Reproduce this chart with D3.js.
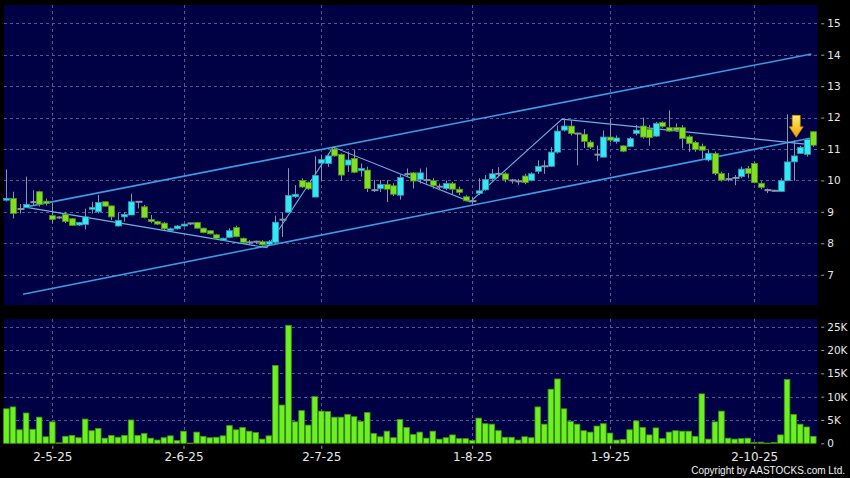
<!DOCTYPE html>
<html><head><meta charset="utf-8">
<script src="https://cdn.jsdelivr.net/npm/d3@7"></script>
<style>html,body{margin:0;padding:0;background:#000;}svg{display:block}</style>
</head><body><svg id="c" width="850" height="478"></svg>
<script>
// ---- data ----
const opens  = [9.37,9.43,9.09,9.14,9.31,9.64,9.34,8.88,8.82,8.92,8.78,8.58,8.60,9.08,9.00,9.32,9.19,8.55,8.84,8.90,
                9.32,9.16,8.76,8.69,8.64,8.41,8.46,8.55,8.63,8.66,8.48,8.40,8.27,8.10,8.19,8.50,8.16,8.03,8.05,8.05,
                7.97,8.03,8.75,8.99,9.48,10.00,9.94,9.47,10.55,10.54,11.00,10.83,10.49,10.70,10.31,10.33,9.69,9.74,9.87,9.83,
                9.53,10.20,10.24,10.03,10.01,9.99,9.80,9.74,9.90,9.72,9.48,9.34,9.59,9.70,10.05,10.21,10.21,10.00,9.97,10.14,
                10.00,10.29,10.45,10.45,10.90,11.60,11.73,11.49,11.47,11.22,10.82,10.74,11.38,11.24,11.10,11.08,11.49,11.73,11.63,11.41,
                11.84,11.68,11.68,11.68,11.39,11.21,11.09,10.65,10.86,10.22,10.04,10.08,10.12,10.38,10.54,9.91,9.69,9.67,9.65,9.99,
                10.59,10.86,10.83,11.55];
const closes = [9.43,8.95,9.09,9.24,9.31,9.24,9.27,8.76,8.82,8.69,8.57,8.66,8.84,9.14,9.30,9.18,8.84,8.73,8.92,9.32,
                9.32,8.82,8.69,8.61,8.46,8.46,8.55,8.61,8.63,8.48,8.34,8.30,8.16,8.16,8.40,8.21,8.03,8.03,8.05,7.95,
                8.05,8.67,8.75,9.52,9.56,9.79,9.73,10.16,10.66,10.78,10.78,10.17,10.65,10.26,10.38,9.74,9.69,9.87,9.72,9.56,
                10.09,10.20,9.98,10.24,10.01,9.83,9.80,9.90,9.72,9.62,9.35,9.34,9.67,10.03,10.21,10.21,10.03,10.00,9.97,9.93,
                10.21,10.45,10.45,10.90,11.57,11.73,11.49,11.49,11.24,11.06,10.82,11.38,11.28,11.35,10.93,11.33,11.60,11.38,11.36,11.81,
                11.72,11.57,11.60,11.33,11.17,10.98,10.96,10.86,10.22,10.01,10.04,10.08,10.36,10.22,9.93,9.78,9.69,9.67,9.99,10.59,
                10.78,11.05,11.30,11.12];
const highs  = [10.35,9.64,9.25,10.12,9.69,9.67,9.42,9.29,8.86,9.00,8.80,8.68,9.10,9.32,9.54,9.34,9.19,8.97,9.00,9.58,
                9.34,9.22,8.90,8.72,8.68,8.50,8.58,8.63,8.66,8.68,8.50,8.42,8.30,8.18,8.48,8.56,8.18,8.10,8.08,8.10,
                8.10,8.88,8.98,10.39,9.85,10.07,9.96,10.77,10.82,10.86,11.07,10.86,10.92,10.97,10.54,10.44,10.02,10.01,10.01,9.91,
                10.18,10.38,10.27,10.38,10.41,10.07,9.90,10.00,9.95,9.80,9.53,9.48,10.07,10.17,10.36,10.42,10.26,10.05,10.05,10.21,
                10.26,10.64,10.64,11.06,11.75,11.95,11.91,11.52,11.63,11.28,11.11,11.59,11.95,11.43,11.12,11.38,11.76,12.00,11.76,11.86,
                11.88,12.23,11.81,11.76,11.44,11.26,11.17,10.97,10.92,10.28,10.24,10.17,10.44,10.46,10.59,9.97,9.74,9.70,10.07,12.10,
                11.27,11.10,11.33,11.55];
const lows   = [9.33,8.79,8.95,9.12,9.22,9.17,9.20,8.63,8.78,8.64,8.55,8.55,8.44,8.95,8.95,9.16,8.74,8.53,8.69,8.90,
                9.11,8.79,8.64,8.58,8.42,8.38,8.44,8.53,8.58,8.46,8.32,8.28,8.14,8.08,8.16,8.19,8.00,7.95,7.98,7.92,
                7.93,8.00,8.20,8.99,9.44,9.76,9.70,9.47,10.00,10.43,10.75,10.00,10.27,10.23,10.12,9.63,9.63,9.63,9.31,9.50,
                9.39,10.12,9.74,9.90,9.90,9.74,9.69,9.69,9.55,9.53,9.33,9.26,9.53,9.67,10.00,10.10,9.94,9.90,9.86,9.88,
                9.97,10.21,10.21,10.43,10.85,11.56,11.43,10.48,11.03,11.00,10.61,10.74,11.21,11.17,10.90,11.06,11.43,11.33,11.10,11.39,
                11.68,11.55,11.55,11.02,10.91,10.91,10.70,10.60,10.17,9.96,9.97,9.85,10.07,10.07,9.91,9.72,9.60,9.65,9.64,9.99,
                9.99,10.86,10.76,11.07];
const volumes = [7400,7800,2900,6500,3000,5600,1400,4600,100,1500,1700,1200,5200,2700,3200,1100,1700,1300,1700,5000,
                 1700,2100,1100,700,1200,1600,600,2600,50,2400,1500,1200,1300,1600,3800,2900,3400,2600,2300,900,
                 1600,16700,8200,25300,4600,7000,3900,10000,6900,6800,5600,5600,6200,5700,4700,6600,2100,1400,2600,1200,
                 5100,3400,1900,2400,1100,2600,900,1200,1800,1000,1000,600,5400,4200,4100,2700,1300,1300,700,1400,
                 1200,7800,4100,11600,13800,7400,4700,4100,2700,2400,3700,4200,2200,700,800,2900,4800,3400,1800,3300,
                 1000,2400,2700,2600,2600,1500,10600,900,4600,6900,1100,900,1000,1100,200,250,50,200,1800,13700,
                 6200,4100,3500,1500];
const priceTicks = [7,8,9,10,11,12,13,14,15];
const volumeTicks = [0,5000,10000,15000,20000,25000];
const volumeTickLabels = ["0","5K","10K","15K","20K","25K"];
const dateTickIndex = [7,27,48,71,92,114];
const dateTickLabels = ["2-5-25","2-6-25","2-7-25","1-8-25","1-9-25","2-10-25"];
const channelUpper = [[2.84,9.15],[122.7,14.02]];
const channelLower = [[2.53,6.38],[122.7,11.35]];
const zigzag = [[2.84,9.15],[39.7,7.86],[49.8,11.06],[70.7,9.32],[84.7,11.95],[122.5,11.14]];
const arrowMark = {index:120.4, top:12.07, tip:11.37};
const copyright = "Copyright by AASTOCKS.com Ltd.";

// ---- layout ----
const svg = d3.select("#c");
const L = 4, R = 817.7;
const P = {top:5, bottom:305};
const V = {top:319, bottom:443.3};
const n = opens.length;

const x = d3.scaleLinear().domain([-0.366, 123.67]).range([L, R]);
const y = d3.scaleLinear().domain([6.036, 15.582]).range([P.bottom, P.top]);
const yv = d3.scaleLinear().domain([0, 26650]).range([V.bottom, V.top]);

svg.append("rect").attr("width",850).attr("height",478).attr("fill","#000");
const NAVY = "#000044";
svg.append("rect").attr("x",L).attr("y",P.top).attr("width",R-L).attr("height",P.bottom-P.top).attr("fill",NAVY);
svg.append("rect").attr("x",L).attr("y",V.top).attr("width",R-L).attr("height",V.bottom-V.top).attr("fill",NAVY);

const GRID = "#575792";
const grid = svg.append("g").attr("stroke",GRID).attr("stroke-width",1).attr("stroke-dasharray","3,3").attr("shape-rendering","crispEdges");
priceTicks.forEach(p => grid.append("line").attr("x1",L).attr("x2",R).attr("y1",Math.round(y(p))+0.5).attr("y2",Math.round(y(p))+0.5));
volumeTicks.filter(v=>v>0).forEach(v => grid.append("line").attr("x1",L).attr("x2",R).attr("y1",Math.round(yv(v))+0.5).attr("y2",Math.round(yv(v))+0.5));
dateTickIndex.forEach(i => {
  const xx = Math.round(x(i))+0.5;
  grid.append("line").attr("x1",xx).attr("x2",xx).attr("y1",P.top).attr("y2",P.bottom);
  grid.append("line").attr("x1",xx).attr("x2",xx).attr("y1",V.top).attr("y2",V.bottom);
});

// ---- right axes ----
const AX = "#9aa0b0";
const yAxis = d3.axisRight(y).tickValues(priceTicks).tickSize(3).tickPadding(3).tickFormat(d3.format("d"));
const ga = svg.append("g").attr("transform",`translate(${R+3.5},0)`).call(yAxis);
const vAxis = d3.axisRight(yv).tickValues(volumeTicks).tickSize(3).tickPadding(3).tickFormat((d,i)=>volumeTickLabels[i]);
const gv = svg.append("g").attr("transform",`translate(${R+3.5},0)`).call(vAxis);
[ga,gv].forEach(g=>{
  g.select(".domain").remove();
  g.selectAll(".tick line").attr("stroke",AX);
  g.selectAll(".tick text").attr("fill","#e8e8e8").attr("font-family","DejaVu Sans, sans-serif").attr("font-size","10.5px");
});

// ---- x axis ----
const xAxis = d3.axisBottom(x).tickValues(dateTickIndex).tickSize(3).tickPadding(4).tickFormat((d,i)=>dateTickLabels[i]);
const gx = svg.append("g").attr("transform",`translate(0,${V.bottom+2.5})`).call(xAxis);
gx.select(".domain").remove();
gx.selectAll(".tick line").attr("stroke",AX);
gx.selectAll(".tick text").attr("fill","#e8e8e8").attr("font-family","DejaVu Sans, sans-serif").attr("font-size","12px");

// ---- volume bars ----
svg.append("g").selectAll("rect").data(volumes).join("rect")
  .attr("x",(d,i)=>x(i)-2.8).attr("width",5.6)
  .attr("y",d=>yv(d)).attr("height",d=>Math.max(0.6,V.bottom-yv(d)))
  .attr("fill","#6cf022").attr("stroke","#3d9414").attr("stroke-width",0.8);

// ---- trend lines ----
const line = d3.line().x(d=>x(d[0])).y(d=>y(d[1]));
svg.append("path").attr("d",line(channelUpper)).attr("fill","none").attr("stroke","#3d9be0").attr("stroke-width",1.6);
svg.append("path").attr("d",line(channelLower)).attr("fill","none").attr("stroke","#3d9be0").attr("stroke-width",1.6);
svg.append("path").attr("d",line(zigzag)).attr("fill","none").attr("stroke","#6cb2e4").attr("stroke-width",1.1);

// ---- candles ----
const cg = svg.append("g");
const idx = d3.range(n);
cg.selectAll("line.w").data(idx).join("line").attr("class","w")
  .attr("x1",i=>Math.round(x(i))+0.5).attr("x2",i=>Math.round(x(i))+0.5)
  .attr("y1",i=>y(highs[i])).attr("y2",i=>y(lows[i]))
  .attr("stroke","#8797a8").attr("stroke-width",1);
cg.selectAll("rect.b").data(idx).join("rect").attr("class","b")
  .attr("x",i=>Math.round(x(i))-2.5)
  .attr("width",i=>opens[i]===closes[i]?7:6)
  .attr("y",i=>opens[i]===closes[i]? y(opens[i])-1 : y(Math.max(opens[i],closes[i])))
  .attr("height",i=>opens[i]===closes[i]? 2 : Math.max(1.5, y(Math.min(opens[i],closes[i]))-y(Math.max(opens[i],closes[i]))))
  .attr("fill",i=>closes[i]>opens[i]?"#36e6f6":(closes[i]<opens[i]?"#80e020":"#8a96a6"))
  .attr("stroke",i=>closes[i]>opens[i]?"#2aa0b4":(closes[i]<opens[i]?"#4f9418":"none"))
  .attr("stroke-width",0.8);

// ---- arrow ----
const defs = svg.append("defs");
const gr = defs.append("linearGradient").attr("id","ag").attr("x1",0).attr("y1",0).attr("x2",0).attr("y2",1);
gr.append("stop").attr("offset","0%").attr("stop-color","#fff06a");
gr.append("stop").attr("offset","100%").attr("stop-color","#f0a000");
const ax = x(arrowMark.index), at = y(arrowMark.top), ab = y(arrowMark.tip);
const hh = (ab-at)*0.48;
const pts = [[ax-4,at],[ax+4,at],[ax+4,ab-hh],[ax+7,ab-hh],[ax,ab],[ax-7,ab-hh],[ax-4,ab-hh]];
svg.append("polygon").attr("points",pts.map(p=>p.join(",")).join(" "))
  .attr("fill","url(#ag)").attr("stroke","#c88000").attr("stroke-width",0.7);

// ---- copyright ----
svg.append("text").attr("x",845).attr("y",474).attr("text-anchor","end")
  .attr("fill","#f0f0f0").attr("font-family","Liberation Sans, Arial, sans-serif").attr("font-size","10px")
  .text(copyright);
</script></body></html>
